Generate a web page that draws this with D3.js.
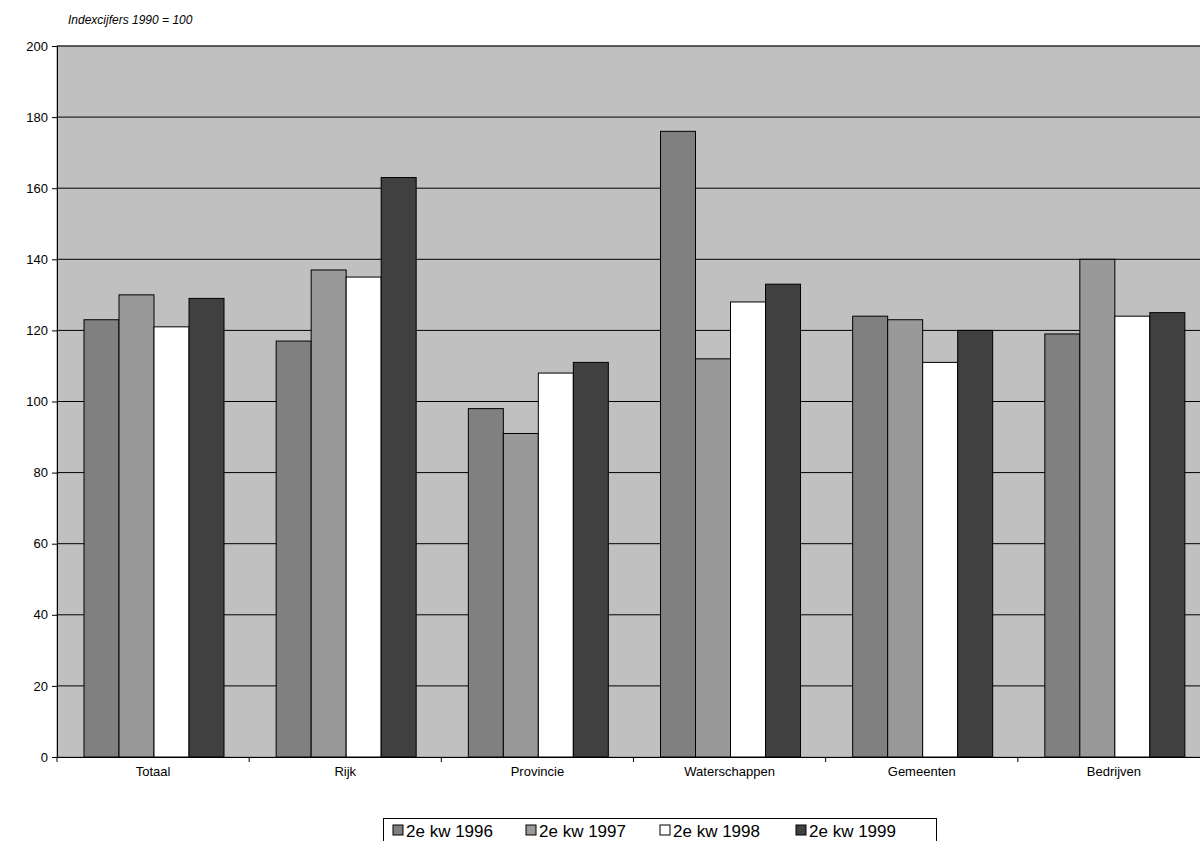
<!DOCTYPE html>
<html><head><meta charset="utf-8">
<script src="https://cdn.jsdelivr.net/npm/d3@7"></script>
<style>body{margin:0;background:#fff}svg{font-family:"Liberation Sans",Arial,sans-serif}</style>
</head><body><svg id="c" width="1200" height="841"></svg>
<script>
// categories and series
var categories = ["Totaal", "Rijk", "Provincie", "Waterschappen", "Gemeenten", "Bedrijven"];
var seriesNames = ["2e kw 1996", "2e kw 1997", "2e kw 1998", "2e kw 1999"];
var s1996 = [123, 117, 98, 176, 124, 119];
var s1997 = [130, 137, 91, 112, 123, 140];
var s1998 = [121, 135, 108, 128, 111, 124];
var s1999 = [129, 163, 111, 133, 120, 125];
var yTicks = [0, 20, 40, 60, 80, 100, 120, 140, 160, 180, 200];
var colors = ["#808080", "#999999", "#ffffff", "#404040"];

var series = [s1996, s1997, s1998, s1999];
var svg = d3.select("#c");
// plot area runs slightly past the right edge, as in the reference
var pLeft = 57, pRight = 1210, pTop = 46, pBottom = 757;

var x = d3.scaleBand().domain(categories).range([pLeft, pRight]);
var xi = d3.scaleBand().domain(d3.range(4)).range([0, 140]);
var y = d3.scaleLinear().domain([0, 200]).range([pBottom, pTop]);

svg.append("rect").attr("x", pLeft).attr("y", pTop).attr("width", pRight - pLeft).attr("height", pBottom - pTop)
  .attr("fill", "#c0c0c0").attr("stroke", "#808080");

svg.append("g").selectAll("line").data(yTicks.slice(1)).join("line")
  .attr("x1", pLeft).attr("x2", pRight).attr("y1", d => y(d)).attr("y2", d => y(d))
  .attr("stroke", "#000").attr("stroke-width", 1);

var yAxis = svg.append("g").attr("transform", "translate(" + pLeft + ",0)")
  .call(d3.axisLeft(y).tickValues(yTicks).tickSize(5).tickPadding(4));
yAxis.select(".domain").attr("stroke", "#000");
yAxis.selectAll("text").attr("font-size", 13).attr("fill", "#000");

var xAxis = svg.append("g").attr("transform", "translate(0," + pBottom + ")")
  .call(d3.axisBottom(x).tickSize(0).tickPadding(10));
xAxis.select(".domain").attr("stroke", "#000");
xAxis.selectAll("text").attr("font-size", 13).attr("fill", "#000");
svg.append("g").selectAll("line").data(categories).join("line")
  .attr("x1", d => x(d)).attr("x2", d => x(d)).attr("y1", pBottom).attr("y2", pBottom + 5).attr("stroke", "#000");

series.forEach(function (vals, si) {
  svg.append("g").selectAll("rect").data(vals).join("rect")
    .attr("x", (d, i) => x(categories[i]) + 27 + xi(si))
    .attr("y", d => y(d)).attr("width", xi.bandwidth()).attr("height", d => pBottom - y(d))
    .attr("fill", colors[si]).attr("stroke", "#000").attr("stroke-width", 1);
});

svg.append("text").attr("x", 68).attr("y", 24).attr("font-size", 12).attr("font-style", "italic")
  .text("Indexcijfers 1990 = 100");

// legend
var lg = svg.append("g");
lg.append("rect").attr("x", 383.5).attr("y", 818.5).attr("width", 553).attr("height", 24)
  .attr("fill", "#fff").attr("stroke", "#000");
var offs = [393, 526, 660, 796];
seriesNames.forEach(function (n, i) {
  lg.append("rect").attr("x", offs[i]).attr("y", 825).attr("width", 10).attr("height", 10)
    .attr("fill", colors[i]).attr("stroke", "#000");
  lg.append("text").attr("x", offs[i] + 13).attr("y", 837).attr("font-size", 17).text(n);
});
</script></body></html>
